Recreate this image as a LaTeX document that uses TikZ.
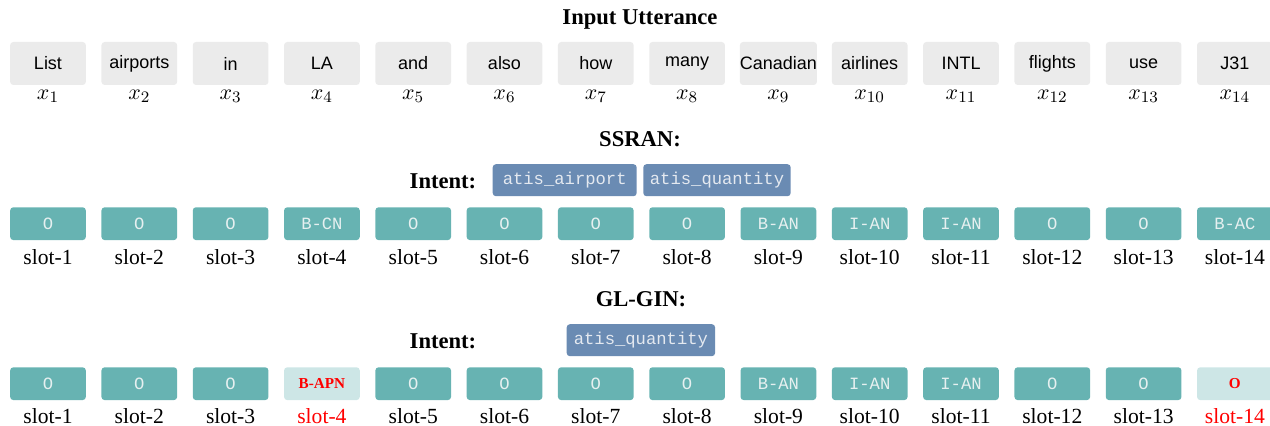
\documentclass[tikz,border=0pt]{standalone}
\usepackage[no-math]{fontspec}
\setmainfont{Liberation Serif}
\newfontfamily\wordfont{Liberation Sans}
\newfontfamily\tagfont{Liberation Mono}
\definecolor{wordgray}{HTML}{EBEBEB}
\definecolor{slotteal}{HTML}{67B3B2}
\definecolor{paleteal}{HTML}{CDE6E6}
\definecolor{intentblue}{HTML}{6A8BB3}
\definecolor{tagtext}{HTML}{E6F0F0}
\definecolor{intenttext}{HTML}{E4E9F0}
\definecolor{errred}{HTML}{FF0000}
\tikzset{
  heading/.style={font=\fontsize{11.3}{13}\selectfont\bfseries},
  wordbox/.style={fill=wordgray, rounded corners=1.6pt, inner sep=0pt,
    minimum width=37.85pt, minimum height=21.5pt,
    font=\fontsize{9}{11}\selectfont\wordfont},
  xlabel/.style={font=\fontsize{11}{13}\selectfont},
  tagbox/.style={fill=slotteal, rounded corners=1.6pt, inner sep=0pt,
    minimum width=37.85pt, minimum height=16.4pt,
    text=tagtext, font=\fontsize{8.6}{10}\selectfont\tagfont},
  wrongbox/.style={fill=paleteal, rounded corners=1.6pt, inner sep=0pt,
    minimum width=37.85pt, minimum height=16.4pt,
    text=errred, font=\fontsize{7.6}{9}\selectfont\bfseries},
  intentbox/.style={fill=intentblue, rounded corners=1.6pt, inner sep=0pt,
    minimum height=16pt, text=intenttext,
    font=\fontsize{8.6}{10}\selectfont\tagfont},
  slotlabel/.style={anchor=base, font=\fontsize{10.8}{13}\selectfont},
}
\begin{document}
\begin{tikzpicture}[x=0.5pt, y=-0.5pt]
\useasboundingbox (0,0) rectangle (1270,426);

% input tokens
\node[heading] (title) at (640,19.5) {Input Utterance};
\foreach \w [count=\i] in {List,airports,in,LA,and,also,how,many,Canadian,airlines,INTL,flights,use,J31}{
  \pgfmathsetmacro{\cx}{48+(\i-1)*91.3}
  \node[wordbox] (w\i) at (\cx,63.5) {\w};
  \node[xlabel] (xl\i) at (\cx,96) {$x_{\i}$};
}

% SSRAN predictions
\node[heading] (ssran) at (640,139) {SSRAN:};
\node[heading] (intA) at (443,181.5) {Intent:};
\node[intentbox, minimum width=72pt] (iA1) at (564.7,180.2) {atis\_airport};
\node[intentbox, minimum width=73.7pt] (iA2) at (717,180.2) {atis\_quantity};
\foreach \t/\st/\lc [count=\i] in {O/tagbox/black,O/tagbox/black,O/tagbox/black,B-CN/tagbox/black,O/tagbox/black,O/tagbox/black,O/tagbox/black,O/tagbox/black,B-AN/tagbox/black,I-AN/tagbox/black,I-AN/tagbox/black,O/tagbox/black,O/tagbox/black,B-AC/tagbox/black}{
  \pgfmathsetmacro{\cx}{48+(\i-1)*91.3}
  \node[\st] (sA\i) at (\cx,223.7) {\t};
  \node[slotlabel, text=\lc] (lA\i) at (\cx,265) {slot-\i};
}

% GL-GIN predictions
\node[heading] (glgin) at (641,299) {GL-GIN:};
\node[heading] (intB) at (443,341.5) {Intent:};
\node[intentbox, minimum width=74.2pt] (iB1) at (640.9,340.2) {atis\_quantity};
\foreach \t/\st/\lc [count=\i] in {O/tagbox/black,O/tagbox/black,O/tagbox/black,B-APN/wrongbox/errred,O/tagbox/black,O/tagbox/black,O/tagbox/black,O/tagbox/black,B-AN/tagbox/black,I-AN/tagbox/black,I-AN/tagbox/black,O/tagbox/black,O/tagbox/black,O/wrongbox/errred}{
  \pgfmathsetmacro{\cx}{48+(\i-1)*91.3}
  \node[\st] (sB\i) at (\cx,383.7) {\t};
  \node[slotlabel, text=\lc] (lB\i) at (\cx,423.5) {slot-\i};
}
\end{tikzpicture}
\end{document}
